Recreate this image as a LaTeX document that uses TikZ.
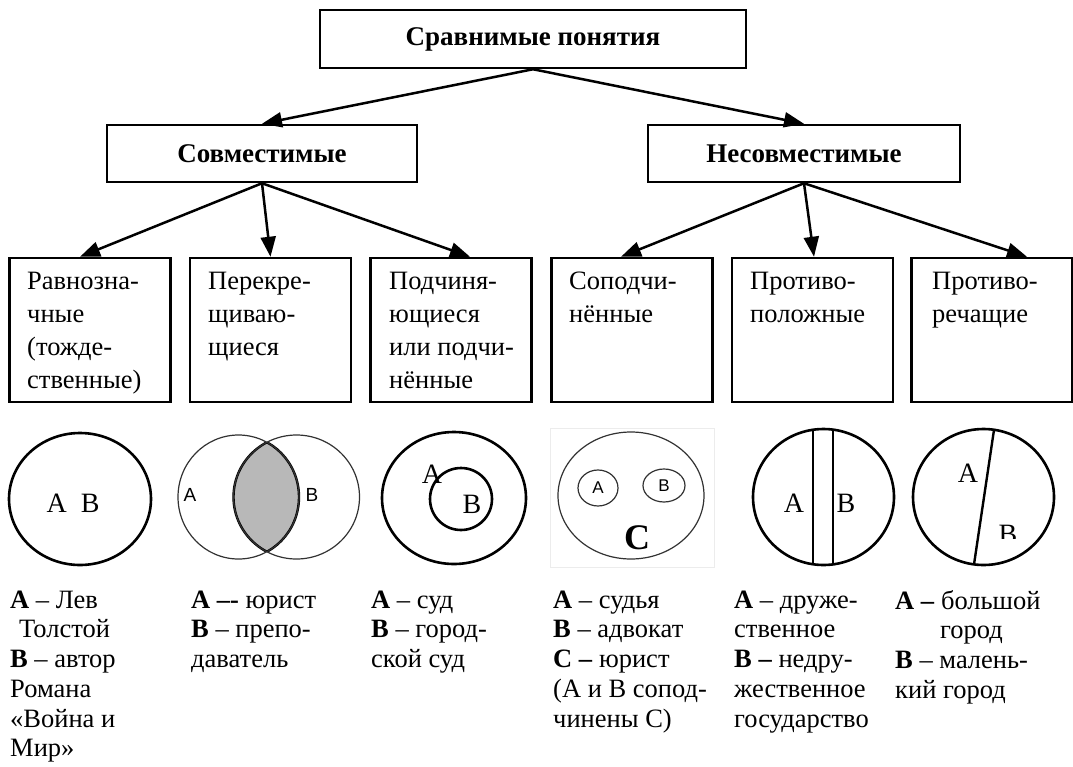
\documentclass[tikz,border=0pt]{standalone}
\usepackage{fontspec}
\setmainfont{Liberation Serif}
\newfontfamily\vennfont{Liberation Sans}
\usetikzlibrary{arrows.meta}
\definecolor{lens}{RGB}{184,184,184}
\definecolor{thinline}{RGB}{50,50,50}
\definecolor{faint}{RGB}{236,236,236}
\begin{document}
\begin{tikzpicture}[x=1pt,y=-1pt,
  box/.style={draw,line width=2.5pt,inner sep=0pt},
  head/.style={box,font=\bfseries\fontsize{27}{30}\selectfont},
  cat/.style={box,minimum width=161pt,minimum height=144pt},
  arr/.style={line width=2.5pt,-{Triangle[length=20pt,width=15pt]}},
  boxtxt/.style={anchor=north west,inner sep=0pt,align=left,font=\fontsize{26.5}{33}\selectfont},
  desc/.style={anchor=north west,inner sep=0pt,align=left,font=\fontsize{26.5}{29.7}\selectfont},
  lbl/.style={inner sep=0pt,font=\fontsize{28}{30}\selectfont},
  slbl/.style={inner sep=0pt,font=\vennfont\fontsize{19}{22}\selectfont},
  thick circ/.style={line width=2.6pt},
  thin circ/.style={line width=1.2pt,draw=thinline}]
\useasboundingbox (0,0) rectangle (1073,766);

% top levels
\node[head,minimum width=426pt,minimum height=58pt] (top) at (533,39) {Сравнимые понятия};
\node[head,minimum width=310pt,minimum height=57pt] (sovm) at (262,153.5) {Совместимые};
\node[head,minimum width=312pt,minimum height=57pt] (nesovm) at (804,153.5) {Несовместимые};

% category boxes
\node[cat] (b1) at (90,330) {};
\node[cat] (b2) at (270.5,330) {};
\node[cat] (b3) at (451,330) {};
\node[cat] (b4) at (632,330) {};
\node[cat] (b5) at (812.5,330) {};
\node[cat] (b6) at (992,330) {};

\node[boxtxt] (t1) at (27,271) {\rule{0pt}{18pt}Равнозна-\\чные\\(тожде-\\ственные)};
\node[boxtxt] (t2) at (208,271) {\rule{0pt}{18pt}Перекре-\\щиваю-\\щиеся};
\node[boxtxt] (t3) at (389,271) {\rule{0pt}{18pt}Подчиня-\\ющиеся\\или подчи-\\нённые};
\node[boxtxt] (t4) at (569,271) {\rule{0pt}{18pt}Соподчи-\\нённые};
\node[boxtxt] (t5) at (750,271) {\rule{0pt}{18pt}Противо-\\положные};
\node[boxtxt] (t6) at (932,271) {\rule{0pt}{18pt}Противо-\\речащие};

% connectors
\draw[arr] (top.south) -- (sovm.north);
\draw[arr] (top.south) -- (nesovm.north);
\draw[arr] (sovm.south) -- ([xshift=-10pt]b1.north);
\draw[arr] (sovm.south) -- (b2.north);
\draw[arr] (sovm.south) -- ([xshift=19pt]b3.north);
\draw[arr] (nesovm.south) -- ([xshift=-11pt]b4.north);
\draw[arr] (nesovm.south) -- ([xshift=1.5pt]b5.north);
\draw[arr] (nesovm.south) -- ([xshift=35pt]b6.north);

% diagram 1
\draw[thick circ] (80,499) ellipse [x radius=71pt, y radius=66pt];
\node[lbl] (l1) at (73,503) {A\ \ B};

% diagram 2 (Venn)
\begin{scope}
  \clip (238.5,497) ellipse [x radius=60.5pt, y radius=62pt];
  \fill[lens] (296.5,497) ellipse [x radius=63pt, y radius=62pt];
  \draw[line width=2.4pt] (296.5,497) ellipse [x radius=63pt, y radius=62pt];
\end{scope}
\begin{scope}
  \clip (296.5,497) ellipse [x radius=63pt, y radius=62pt];
  \draw[line width=2.4pt] (238.5,497) ellipse [x radius=60.5pt, y radius=62pt];
\end{scope}
\draw[thin circ] (238.5,497) ellipse [x radius=60.5pt, y radius=62pt];
\draw[thin circ] (296.5,497) ellipse [x radius=63pt, y radius=62pt];
\node[slbl] (l2a) at (190,495) {A};
\node[slbl] (l2b) at (312,495) {B};

% diagram 3
\draw[thick circ] (454,498) ellipse [x radius=72pt, y radius=66pt];
\draw[thick circ] (461,499) circle [radius=31pt];
\node[lbl] (l3a) at (432,474) {A};
\node[lbl] (l3b) at (472,504) {B};

% diagram 4
\draw[faint,line width=1pt] (550,428) rectangle (714,567);
\draw[thin circ] (631,495.5) ellipse [x radius=73pt, y radius=63.5pt];
\draw[thin circ] (598,488) ellipse [x radius=20pt, y radius=18pt];
\draw[thin circ] (664,485.5) ellipse [x radius=21pt, y radius=16.5pt];
\node[slbl,font=\vennfont\fontsize{17}{20}\selectfont] (l4a) at (598,488) {A};
\node[slbl,font=\vennfont\fontsize{17}{20}\selectfont] (l4b) at (664,486) {B};
\node[inner sep=0pt,font=\bfseries\fontsize{36}{40}\selectfont] (l4c) at (637,538) {C};

% diagram 5
\draw[thick circ] (823.5,497) ellipse [x radius=70.5pt, y radius=68pt];
\draw[line width=2.4pt] (813,429.8) -- (813,564.2);
\draw[line width=2.4pt] (833,429.6) -- (833,564.4);
\node[lbl] (l5a) at (794,503) {A};
\node[lbl] (l5b) at (846,503) {B};

% diagram 6
\draw[thick circ] (983.5,497) ellipse [x radius=70.5pt, y radius=68pt];
\draw[line width=2.4pt] (994,429.8) -- (974,564.4);
\node[lbl] (l6a) at (968,473) {A};
\begin{scope}
  \clip (990,515) rectangle (1030,538);
  \node[lbl] (l6b) at (1008,534) {B};
\end{scope}

% descriptions
\node[desc] (d1) at (10,590) {\rule{0pt}{18pt}\textbf{А} – Лев\\\hspace{9pt}Толстой\\\textbf{В} – автор\\Романа\\«Война и\\Мир»};
\node[desc] (d2) at (191,590) {\rule{0pt}{18pt}\textbf{А –-} юрист\\\textbf{В} – препо-\\даватель};
\node[desc] (d3) at (371,590) {\rule{0pt}{18pt}\textbf{А} – суд\\\textbf{В} – город-\\ской суд};
\node[desc] (d4) at (553,590) {\rule{0pt}{18pt}\textbf{А} – судья\\\textbf{В} – адвокат\\\textbf{С –} юрист\\(А и В сопод-\\чинены С)};
\node[desc] (d5) at (734,590) {\rule{0pt}{18pt}\textbf{А} – друже-\\ственное\\\textbf{В –} недру-\\жественное\\государство};
\node[desc] (d6) at (895,590) {\rule{0pt}{18pt}\textbf{А –} большой\\\hspace{45pt}город\\\textbf{В} – малень-\\кий город};
\end{tikzpicture}
\end{document}
